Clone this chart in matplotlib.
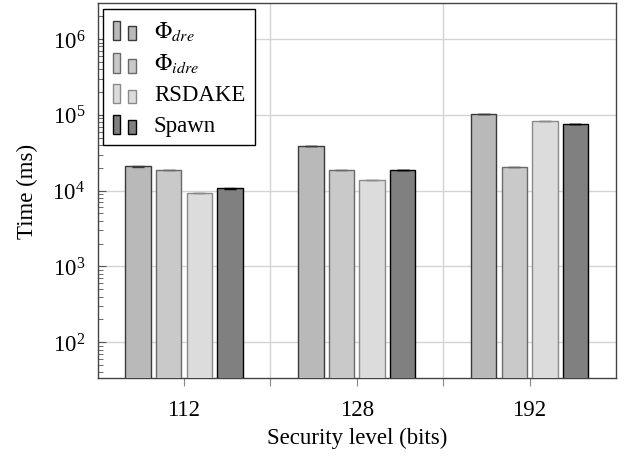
import matplotlib
matplotlib.use("Agg")
import matplotlib.pyplot as plt
import numpy as np
from matplotlib.patches import Rectangle
from matplotlib.legend_handler import HandlerBase
from matplotlib.ticker import LogLocator, FixedLocator, NullFormatter

plt.rcParams['font.family'] = ['Liberation Serif', 'DejaVu Serif']
plt.rcParams['mathtext.fontset'] = 'stix'

categories = ['112', '128', '192']
series_names = [r'$\Phi_{dre}$', r'$\Phi_{idre}$', 'RSDAKE', 'Spawn']
phi_dre = [20900, 39000, 103000]
phi_idre = [18800, 18800, 20400]
rsdake = [9300, 13900, 82600]
spawn = [10700, 18800, 76300]
err_phi_dre = [150, 250, 700]
err_phi_idre = [150, 150, 150]
err_rsdake = [80, 100, 500]
err_spawn = [80, 150, 500]

series = [phi_dre, phi_idre, rsdake, spawn]
errors = [err_phi_dre, err_phi_idre, err_rsdake, err_spawn]
fills = ['#b9b9b9', '#c9c9c9', '#dcdcdc', '#808080']
edges = ['#3a3a3a', '#6a6a6a', '#8a8a8a', '#000000']

FS = 16.5


class TwoBarHandler(HandlerBase):
    def create_artists(self, legend, orig_handle, xdescent, ydescent,
                       width, height, fontsize, trans):
        fc = orig_handle.get_facecolor()
        ec = orig_handle.get_edgecolor()
        x0 = -xdescent
        y0 = -ydescent - 2.5
        r1 = Rectangle((x0, y0), 5.0, 14.0, facecolor=fc, edgecolor=ec,
                       lw=1.0, transform=trans)
        r2 = Rectangle((x0 + 11.0, y0), 6.0, 10.0, facecolor=fc,
                       edgecolor=ec, lw=1.0, transform=trans)
        return [r1, r2]


fig = plt.figure(figsize=(6.24, 4.60), dpi=100)
ax = fig.add_axes([97.5 / 624, 1 - 379 / 460, (616 - 97.5) / 624, (379 - 4) / 460])

x = np.arange(len(categories))
pitch = 0.177
width = 0.147
handles = []
for i, (vals, errs) in enumerate(zip(series, errors)):
    pos = x + (i - 1.5) * pitch
    b = ax.bar(pos, vals, width=width, color=fills[i], edgecolor=edges[i],
               linewidth=1.0, label=series_names[i], zorder=3,
               bottom=1e-3)
    ax.errorbar(pos, vals, yerr=errs, fmt='none', ecolor=edges[i],
                elinewidth=0.8, capsize=4, capthick=1.0, zorder=4)
    handles.append(b.patches[0])

ax.set_yscale('log')
ax.set_ylim(33.8, 2.99e6)
ax.set_xlim(-0.5, 2.5)

ax.set_xticks(x)
ax.set_xticklabels(categories)
ax.xaxis.set_minor_locator(FixedLocator([0.5, 1.5]))
ax.yaxis.set_major_locator(LogLocator(base=10, numticks=10))
ax.yaxis.set_minor_locator(LogLocator(base=10, subs=np.arange(2, 10), numticks=10))
ax.yaxis.set_minor_formatter(NullFormatter())

ax.grid(True, which='major', axis='y', color='#d4d4d4', lw=1.0, zorder=0)
ax.grid(True, which='minor', axis='x', color='#d4d4d4', lw=1.0, zorder=0)

ax.tick_params(axis='y', which='major', direction='in', length=6, width=0.8,
               color='#555555', labelsize=FS, right=False, pad=9)
ax.tick_params(axis='y', which='minor', direction='in', length=3.5, width=0.6,
               color='#555555', right=False)
ax.tick_params(axis='x', which='major', direction='out', length=6, width=0.8,
               color='#888888', labelsize=FS, pad=9, top=False)
ax.tick_params(axis='x', which='minor', direction='out', length=6, width=0.8,
               color='#888888', top=False)

for s in ax.spines.values():
    s.set_color('#444444')
    s.set_linewidth(1.0)

ax.set_xlabel('Security level (bits)', fontsize=FS, labelpad=5)
ax.set_ylabel('Time (ms)', fontsize=FS, labelpad=10)

leg = ax.legend(handles=handles, labels=series_names, loc='upper left',
                bbox_to_anchor=(0.0106, 0.984), borderaxespad=0,
                handler_map={Rectangle: TwoBarHandler()},
                fontsize=FS, handlelength=1.1, handletextpad=0.7,
                labelspacing=0.42, borderpad=0.42, fancybox=False,
                framealpha=1.0, edgecolor='#000000')
leg.get_frame().set_linewidth(1.0)
leg.set_zorder(10)

fig.savefig('out.png', dpi=100)
